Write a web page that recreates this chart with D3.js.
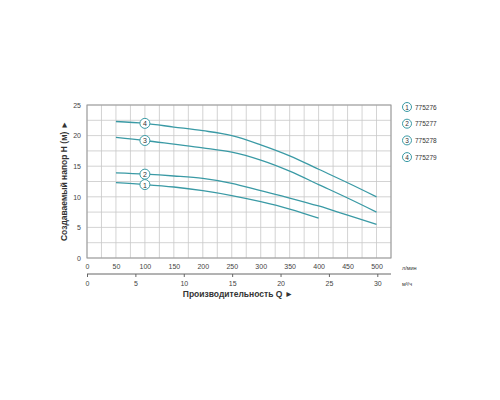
<!DOCTYPE html><html><head><meta charset="utf-8"><script src="https://cdn.jsdelivr.net/npm/d3@7"></script>
<style>body{margin:0;background:#fff}text{font-family:"Liberation Sans",Arial,sans-serif;fill:#333}</style></head><body><svg id="c" width="500" height="400"></svg><script>
const flow=[50,100,150,200,250,300,350,400,450,500];
const s1=[12.3,12,11.6,11,10.2,9.2,8,6.5];
const s2=[13.9,13.7,13.4,13,12.2,11,9.8,8.5,7,5.5];
const s3=[19.7,19.2,18.6,18,17.3,16,14.2,12,9.8,7.5];
const s4=[22.3,22,21.4,20.8,20,18.5,16.7,14.5,12.3,10];
const names=["775276","775277","775278","775279"];
const series=[s1,s2,s3,s4];
const lTicks=[0,50,100,150,200,250,300,350,400,450,500];
const qTicks=[0,5,10,15,20,25,30];
const col="#3a9aa5";
const svg=d3.select("#c");
const x=d3.scaleLinear().domain([0,525]).range([87,391]);
const q=d3.scaleLinear().domain([0,30]).range([87,377.3]);
const y=d3.scaleLinear().domain([0,25]).range([258,105]);
const g=svg.append("g");
d3.range(0,526,25).forEach(v=>g.append("line").attr("x1",x(v)).attr("x2",x(v)).attr("y1",y(0)).attr("y2",y(25)).attr("stroke","#c8c8c8").attr("stroke-width",0.8));
d3.range(0,25.1,2.5).forEach(v=>g.append("line").attr("x1",x(0)).attr("x2",x(525)).attr("y1",y(v)).attr("y2",y(v)).attr("stroke","#c8c8c8").attr("stroke-width",0.8));
g.append("rect").attr("x",x(0)).attr("y",y(25)).attr("width",x(525)-x(0)).attr("height",y(0)-y(25)).attr("fill","none").attr("stroke","#999");
const ya=svg.append("g").attr("transform",`translate(${x(0)},0)`).call(d3.axisLeft(y).tickValues([0,5,10,15,20,25]).tickSize(0).tickPadding(6));
ya.select(".domain").remove();
const xa=svg.append("g").attr("transform",`translate(0,${y(0)})`).call(d3.axisBottom(x).tickValues(lTicks).tickSize(0).tickPadding(6));
xa.select(".domain").remove();
const qa=svg.append("g").attr("transform",`translate(0,274)`).call(d3.axisBottom(q).tickValues(qTicks).tickSize(3).tickPadding(4));
qa.select(".domain").attr("d",`M${x(0)},0H${x(525)}`).attr("stroke","#666");
qa.selectAll("line").attr("stroke","#666");
svg.selectAll(".tick text").attr("font-size",7).style("fill","#444");
const line=d3.line().x((d,i)=>x(flow[i])).y(d=>y(d)).curve(d3.curveCatmullRom.alpha(0.5));
series.forEach((s,k)=>{
 svg.append("path").attr("d",line(s)).attr("fill","none").attr("stroke",col).attr("stroke-width",1.3);
 svg.append("circle").attr("cx",x(100)).attr("cy",y(s[1])).attr("r",5).attr("fill","#fff").attr("stroke",col).attr("stroke-width",1);
 svg.append("text").attr("x",x(100)).attr("y",y(s[1])+3).attr("text-anchor","middle").attr("font-size",7).text(k+1);
 const ly=107+k*16.7;
 svg.append("circle").attr("cx",407).attr("cy",ly).attr("r",4.5).attr("fill","#fff").attr("stroke",col);
 svg.append("text").attr("x",407).attr("y",ly+2.5).attr("text-anchor","middle").attr("font-size",6.5).text(k+1);
 svg.append("text").attr("x",415).attr("y",ly+2.5).attr("font-size",6.5).text(names[k]);
});
svg.append("text").attr("transform","translate(67,181) rotate(-90)").attr("text-anchor","middle").attr("font-size",8.5).attr("font-weight","bold").text("Создаваемый напор H (м) ►");
svg.append("text").attr("x",238).attr("y",297).attr("text-anchor","middle").attr("font-size",8.5).attr("font-weight","bold").text("Производительность Q ►");
svg.append("text").attr("x",402).attr("y",270).attr("font-size",5.5).text("л/мин");
svg.append("text").attr("x",402).attr("y",286).attr("font-size",5.5).text("м³/ч");
</script></body></html>
